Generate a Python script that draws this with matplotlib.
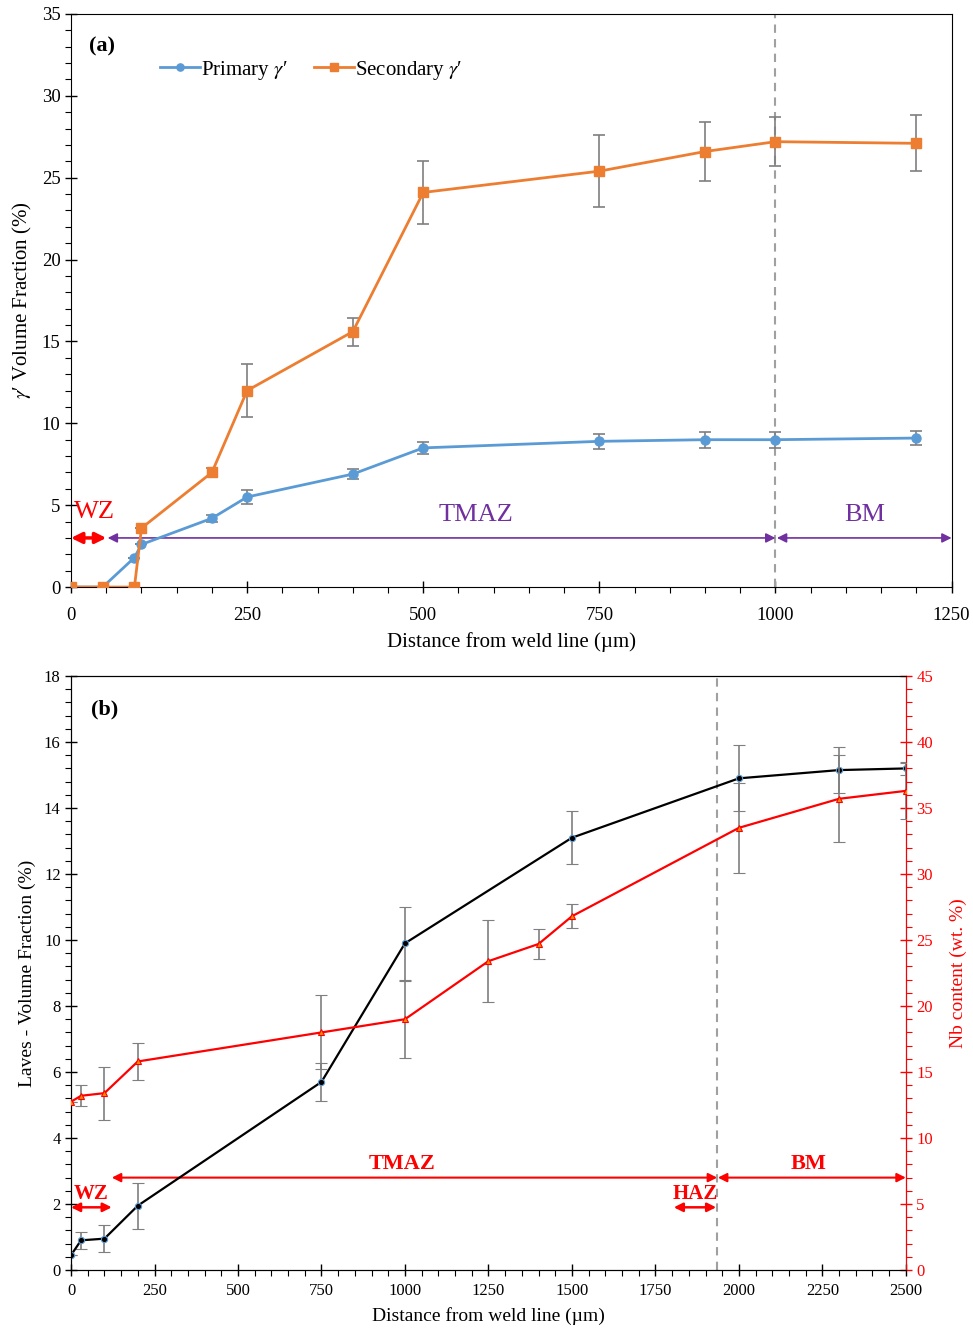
import matplotlib
matplotlib.use("Agg")
import matplotlib.pyplot as plt
from matplotlib.ticker import MultipleLocator

plt.rcParams["font.family"] = ["Liberation Serif", "DejaVu Serif"]
plt.rcParams["mathtext.fontset"] = "stix"

# ---- panel (a): gamma prime volume fraction ----
a_dist = [0, 45, 90, 100, 200, 250, 400, 500, 750, 900, 1000, 1200]
a_primary = [0, 0, 1.8, 2.6, 4.2, 5.5, 6.9, 8.5, 8.9, 9.0, 9.0, 9.1]
a_primary_err = [0, 0, 0, 0, 0.2, 0.4, 0.3, 0.35, 0.45, 0.5, 0.5, 0.45]
a_secondary = [0, 0, 0, 3.6, 7.0, 12.0, 15.6, 24.1, 25.4, 26.6, 27.2, 27.1]
a_secondary_err = [0, 0, 0, 0, 0.3, 1.6, 0.85, 1.9, 2.2, 1.8, 1.5, 1.7]

# ---- panel (b): Laves fraction and Nb content ----
b_dist = [0, 30, 100, 200, 750, 1000, 1500, 2000, 2300, 2500]
b_laves = [0.45, 0.9, 0.95, 1.95, 5.7, 9.9, 13.1, 14.9, 15.15, 15.2]
b_laves_err = [0, 0.25, 0.4, 0.7, 0.57, 1.1, 0.8, 1.0, 0.7, 0.2]
b_nb_dist = [0, 30, 100, 200, 750, 1000, 1250, 1400, 1500, 2000, 2300, 2500]
b_nb = [12.75, 13.2, 13.4, 15.8, 18.0, 19.0, 23.4, 24.7, 26.8, 33.5, 35.7, 36.3]
b_nb_err = [0, 0.8, 2.0, 1.4, 2.8, 2.9, 3.1, 1.15, 0.9, 3.4, 3.3, 2.1]

BLUE = "#5B9BD5"
ORANGE = "#ED7D31"
PURPLE = "#7030A0"
RED = "#FF0000"
GREY = "#7F7F7F"

fig = plt.figure(figsize=(9.73, 13.3), dpi=100)
ax_a = fig.add_axes([0.073, 0.5586, 0.905, 0.4309])
ax_b = fig.add_axes([0.073, 0.0451, 0.858, 0.4466])


def style_ticks(ax, size, pad):
    ax.tick_params(which="major", direction="inout", length=8, width=1,
                   labelsize=size)
    ax.tick_params(which="minor", direction="out", length=4, width=0.8)
    ax.tick_params(axis="x", which="major", pad=pad)


def span_arrow(ax, x0, x1, y, color, lw=1.5, scale=14):
    ax.annotate("", xy=(x1, y), xytext=(x0, y),
                arrowprops=dict(arrowstyle="<|-|>", color=color, lw=lw,
                                mutation_scale=scale, shrinkA=0, shrinkB=0))


# ---------------- (a) ----------------
ax_a.errorbar(a_dist, a_primary, yerr=a_primary_err, color=BLUE, lw=2,
              marker="o", ms=6.5, ecolor=GREY, elinewidth=1.2, capsize=4,
              capthick=1.2, label="Primary $\\gamma$\u2032", zorder=3)
ax_a.errorbar(a_dist, a_secondary, yerr=a_secondary_err, color=ORANGE, lw=2,
              marker="s", ms=7, ecolor=GREY, elinewidth=1.2, capsize=4,
              capthick=1.2, label="Secondary $\\gamma$\u2032", zorder=4)
ax_a.axvline(1000, color="#A0A0A0", lw=1.5, ls=(0, (4, 3)), zorder=2)

ax_a.set_xlim(0, 1250)
ax_a.set_ylim(0, 35)
ax_a.xaxis.set_major_locator(MultipleLocator(250))
ax_a.xaxis.set_minor_locator(MultipleLocator(50))
ax_a.yaxis.set_major_locator(MultipleLocator(5))
ax_a.yaxis.set_minor_locator(MultipleLocator(1))
style_ticks(ax_a, 13.5, 10)
ax_a.set_xlabel("Distance from weld line (\u00b5m)", fontsize=15, labelpad=6)
ax_a.set_ylabel("$\\gamma$\u2032 Volume Fraction (%)", fontsize=15,
                labelpad=6)

span_arrow(ax_a, 0, 50, 3.0, RED, lw=2.5, scale=16)
span_arrow(ax_a, 52, 1000, 3.0, PURPLE, lw=1.2, scale=14)
span_arrow(ax_a, 1002, 1250, 3.0, PURPLE, lw=1.2, scale=14)
ax_a.text(33, 3.9, "WZ", color=RED, fontsize=19, ha="center", va="bottom")
ax_a.text(575, 3.7, "TMAZ", color=PURPLE, fontsize=19, ha="center",
          va="bottom")
ax_a.text(1127, 3.7, "BM", color=PURPLE, fontsize=19, ha="center",
          va="bottom")
ax_a.text(25, 33.0, "(a)", fontsize=16, fontweight="bold", va="center")

handles, labels = ax_a.get_legend_handles_labels()
handles = [h[0] for h in handles]
ax_a.legend(handles, labels, loc="upper left", bbox_to_anchor=(0.08, 0.955),
            ncol=2, frameon=False, fontsize=15, handlelength=1.9,
            handletextpad=0.05, columnspacing=1.3, markerscale=0.8)

# ---------------- (b) ----------------
ax_b.errorbar(b_dist, b_laves, yerr=b_laves_err, color="black", lw=1.6,
              marker="o", ms=4.5, mfc="black", mec=BLUE, mew=0.8,
              ecolor=GREY, elinewidth=1.2, capsize=4, capthick=1.2, zorder=3)
ax_b.axvline(1935, color="#A0A0A0", lw=1.5, ls=(0, (4, 3)), zorder=2)
ax_b.set_xlim(0, 2500)
ax_b.set_ylim(0, 18)
ax_b.xaxis.set_major_locator(MultipleLocator(250))
ax_b.xaxis.set_minor_locator(MultipleLocator(50))
ax_b.yaxis.set_major_locator(MultipleLocator(2))
ax_b.yaxis.set_minor_locator(MultipleLocator(0.4))
style_ticks(ax_b, 12, 5)
ax_b.set_xlabel("Distance from weld line (\u00b5m)", fontsize=14, labelpad=6)
ax_b.set_ylabel("Laves - Volume Fraction (%)", fontsize=14, labelpad=6)

ax_r = ax_b.twinx()
ax_r.errorbar(b_nb_dist, b_nb, yerr=b_nb_err, color=RED, lw=1.6,
              marker="^", ms=5, mfc="#FF8C00", mec=RED, mew=0.8,
              ecolor=GREY, elinewidth=1.2, capsize=4, capthick=1.2, zorder=3)
ax_r.set_ylim(0, 45)
ax_r.yaxis.set_major_locator(MultipleLocator(5))
ax_r.yaxis.set_minor_locator(MultipleLocator(1))
ax_r.tick_params(which="major", direction="inout", length=8, width=1,
                 labelsize=12, colors=RED)
ax_r.tick_params(which="minor", direction="out", length=4, width=0.8,
                 colors=RED)
ax_r.spines["right"].set_color(RED)
ax_r.set_ylabel("Nb content (wt. %)", fontsize=14, color=RED, labelpad=12)

span_arrow(ax_b, 0, 122, 1.9, RED, lw=1.8, scale=13)
span_arrow(ax_b, 122, 1935, 2.8, RED, lw=1.5, scale=13)
span_arrow(ax_b, 1937, 2500, 2.8, RED, lw=1.5, scale=13)
span_arrow(ax_b, 1805, 1932, 1.9, RED, lw=1.8, scale=13)
ax_b.text(60, 2.0, "WZ", color=RED, fontsize=15, fontweight="bold",
          ha="center", va="bottom")
ax_b.text(990, 2.9, "TMAZ", color=RED, fontsize=16, fontweight="bold",
          ha="center", va="bottom")
ax_b.text(2210, 2.9, "BM", color=RED, fontsize=16, fontweight="bold",
          ha="center", va="bottom")
ax_b.text(1870, 2.0, "HAZ", color=RED, fontsize=15, fontweight="bold",
          ha="center", va="bottom")
ax_b.text(60, 17.0, "(b)", fontsize=16, fontweight="bold", va="center")

fig.savefig("out.png")
